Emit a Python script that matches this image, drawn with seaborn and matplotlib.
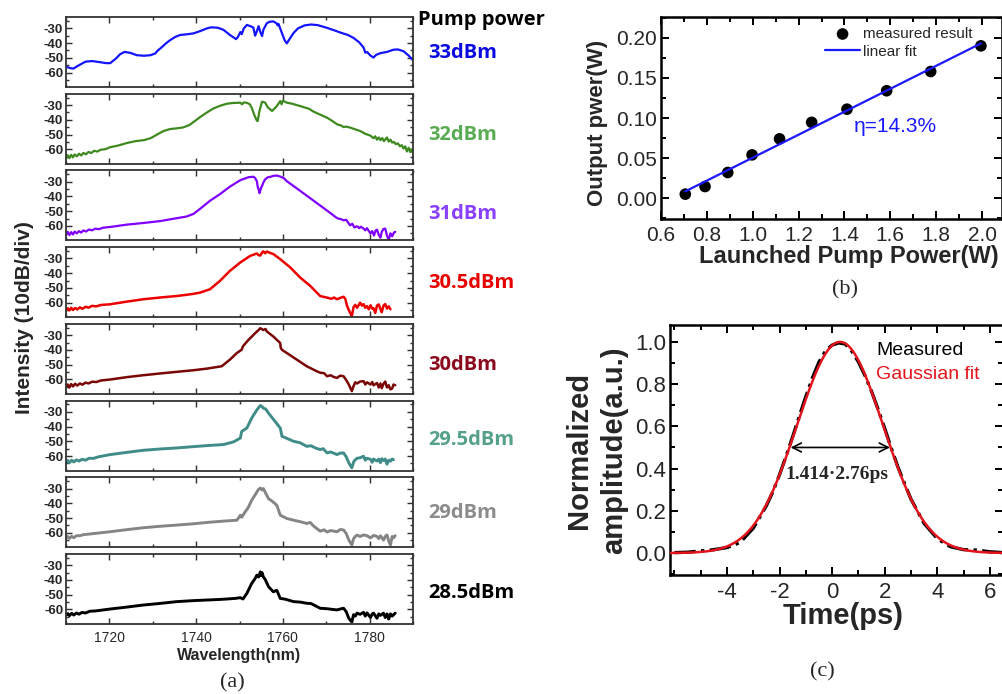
import numpy as np
import pandas as pd
import matplotlib
matplotlib.use("Agg")
import matplotlib.pyplot as plt
import seaborn as sns
from matplotlib.ticker import MultipleLocator

# ---------------- data: panel (a) spectra (wavelength nm, intensity dB) ----------------
spec_33 = [(1710.0, -56.1), (1711.0, -57.0), (1711.7, -57.3), (1713.0, -55.0), (1714.5, -52.6),
           (1716.0, -52.2), (1717.5, -52.8), (1719.2, -53.6), (1720.2, -53.6), (1721.5, -50.5),
           (1722.5, -47.5), (1723.5, -46.0), (1724.8, -46.6), (1726.3, -48.2), (1728.0, -48.6),
           (1729.5, -48.2), (1730.6, -47.0), (1731.0, -45.5), (1732.0, -43.0), (1733.0, -40.3),
           (1734.0, -38.0), (1735.2, -35.8), (1736.3, -34.5), (1738.0, -34.0), (1739.4, -33.4),
           (1741.0, -31.8), (1742.5, -30.0), (1743.5, -29.3), (1745.0, -29.6), (1746.3, -31.0),
           (1747.8, -34.5), (1749.2, -37.3), (1749.6, -36.0), (1750.2, -32.5), (1750.5, -34.0),
           (1751.0, -30.0), (1751.7, -27.7), (1752.5, -28.5), (1753.2, -29.5), (1753.6, -35.0),
           (1754.0, -32.0), (1754.4, -28.5), (1754.8, -32.5), (1755.2, -35.2), (1755.5, -31.0),
           (1756.3, -26.5), (1757.0, -25.5), (1757.8, -25.3), (1758.5, -26.5), (1758.8, -28.0),
           (1759.0, -27.0), (1759.8, -33.4), (1760.4, -38.0), (1760.9, -40.2), (1761.6, -37.0),
           (1762.5, -33.0), (1763.5, -30.0), (1765.0, -28.0), (1766.5, -27.4), (1768.0, -27.8),
           (1770.0, -29.5), (1772.0, -31.5), (1773.2, -32.8), (1775.0, -34.5), (1776.3, -36.5),
           (1777.6, -39.5), (1778.6, -43.0), (1779.0, -46.5), (1779.4, -46.0), (1780.2, -48.5),
           (1780.9, -49.8), (1781.5, -48.0), (1782.5, -46.8), (1784.0, -46.0), (1785.5, -44.5),
           (1786.5, -44.3), (1787.8, -45.5), (1789.0, -48.5), (1790.0, -51.6)]

spec_32 = [(1710.0, -66.5), (1710.4, -64.0), (1710.8, -66.0), (1711.2, -63.8), (1711.6, -65.5),
           (1712.0, -63.5), (1712.5, -64.8), (1713.0, -63.0), (1713.5, -64.2), (1714.0, -62.5),
           (1714.6, -63.4), (1715.2, -61.8), (1715.8, -62.6), (1716.5, -61.0), (1717.2, -61.6),
           (1718.0, -60.3), (1719.0, -60.0), (1720.2, -58.6), (1722.0, -57.5), (1724.0, -55.8),
           (1726.0, -54.5), (1728.0, -53.8), (1729.5, -52.5), (1731.0, -50.0), (1732.5, -47.6),
           (1734.0, -46.3), (1735.5, -45.8), (1737.0, -45.2), (1738.5, -43.5), (1739.4, -41.5),
           (1741.0, -38.0), (1742.5, -35.0), (1744.0, -32.3), (1745.5, -30.5), (1747.1, -29.1),
           (1748.5, -28.6), (1750.2, -28.4), (1750.6, -29.5), (1751.0, -28.2), (1751.7, -28.5),
           (1752.4, -29.5), (1752.8, -31.8), (1753.2, -35.0), (1753.6, -38.1), (1754.0, -40.5),
           (1754.2, -40.8), (1754.6, -34.0), (1755.2, -27.7), (1755.9, -28.3), (1756.5, -31.5),
           (1757.1, -33.0), (1757.5, -34.0), (1758.2, -32.0), (1758.6, -30.7), (1759.4, -27.3),
           (1759.7, -29.5), (1760.0, -27.0), (1760.5, -27.8), (1760.9, -28.4), (1762.0, -29.0),
           (1764.0, -30.7), (1766.0, -32.5), (1767.1, -34.5), (1768.6, -36.5), (1770.2, -38.6),
           (1771.5, -41.0), (1772.5, -43.1), (1773.5, -44.0), (1774.0, -45.0), (1774.5, -44.6),
           (1775.5, -45.3), (1776.5, -46.3), (1777.8, -47.6), (1779.0, -49.5), (1780.2, -50.8),
           (1780.9, -52.5), (1781.3, -51.2), (1781.7, -53.5), (1782.1, -52.0), (1782.5, -53.8),
           (1782.9, -52.4), (1783.3, -54.5), (1783.7, -53.0), (1784.0, -52.0), (1784.4, -54.8),
           (1784.8, -53.5), (1785.2, -55.5), (1785.6, -55.0), (1786.0, -56.5), (1786.5, -56.0),
           (1787.0, -58.0), (1787.4, -57.2), (1787.8, -59.5), (1788.2, -58.0), (1788.6, -61.5),
           (1789.0, -59.0), (1789.4, -62.0), (1789.7, -60.0), (1790.0, -62.5)]

spec_31 = [(1710.0, -66.5), (1710.4, -64.0), (1710.8, -66.2), (1711.2, -64.2), (1711.6, -65.8),
           (1712.0, -63.8), (1712.5, -65.0), (1713.0, -63.5), (1713.5, -64.5), (1714.0, -63.0),
           (1714.6, -63.8), (1715.3, -62.4), (1716.0, -63.0), (1716.8, -61.8), (1717.6, -62.2),
           (1718.5, -61.2), (1720.2, -60.7), (1724.0, -59.1), (1727.8, -58.0), (1731.7, -56.7),
           (1734.8, -55.1), (1737.8, -53.6), (1739.4, -51.8), (1740.9, -48.4), (1743.2, -42.9),
           (1745.5, -38.4), (1747.8, -33.3), (1750.2, -28.9), (1752.1, -26.9), (1753.2, -26.6),
           (1753.6, -27.5), (1754.0, -29.6), (1754.2, -33.5), (1754.4, -35.1), (1754.6, -37.8),
           (1754.8, -36.0), (1755.0, -34.0), (1755.2, -32.9), (1755.5, -30.5), (1755.9, -28.4),
           (1756.5, -27.0), (1757.1, -26.7), (1757.8, -26.0), (1758.6, -25.8), (1759.4, -26.5),
           (1760.2, -27.5), (1760.9, -29.6), (1764.0, -36.2), (1767.1, -42.9), (1770.2, -49.6),
           (1772.5, -54.7), (1773.5, -55.5), (1774.0, -56.2), (1774.6, -55.8), (1775.5, -59.6),
           (1776.0, -58.5), (1776.5, -61.0), (1777.1, -60.2), (1777.6, -61.5), (1778.0, -60.5),
           (1778.6, -61.8), (1779.0, -63.0), (1779.4, -61.5), (1779.9, -63.8), (1780.2, -65.1),
           (1780.6, -63.5), (1781.0, -66.5), (1781.4, -63.0), (1781.7, -62.5), (1782.1, -66.0),
           (1782.5, -68.0), (1782.8, -64.0), (1783.2, -62.0), (1783.6, -61.8), (1784.0, -66.5),
           (1784.4, -69.6), (1784.8, -65.0), (1785.2, -67.0), (1785.6, -64.5), (1785.9, -64.0)]

spec_305 = [(1710.0, -65.5), (1710.4, -63.8), (1710.8, -65.2), (1711.2, -63.5), (1711.6, -65.0),
            (1712.1, -63.6), (1712.6, -64.6), (1713.2, -63.2), (1713.8, -64.2), (1714.5, -62.8),
            (1715.2, -63.4), (1716.0, -62.2), (1717.0, -62.5), (1718.0, -61.6), (1720.2, -61.1),
            (1724.0, -59.3), (1727.8, -57.7), (1731.7, -56.5), (1735.5, -55.5), (1739.0, -54.2),
            (1740.9, -53.2), (1743.2, -50.9), (1745.5, -45.2), (1747.8, -38.4), (1750.2, -32.7),
            (1752.5, -28.2), (1753.2, -27.5), (1754.0, -26.6), (1754.4, -27.8), (1754.8, -28.0),
            (1755.2, -26.0), (1755.5, -25.2), (1755.9, -26.5), (1756.3, -25.3), (1756.7, -25.8),
            (1757.1, -26.3), (1757.8, -27.0), (1759.4, -30.5), (1761.7, -36.1), (1764.0, -43.0),
            (1766.3, -48.6), (1768.6, -55.5), (1770.2, -56.6), (1771.2, -57.4), (1771.8, -56.5),
            (1772.5, -57.7), (1773.2, -56.8), (1774.0, -56.0), (1774.4, -57.5), (1774.8, -62.3),
            (1775.2, -65.0), (1775.5, -66.8), (1775.9, -69.0), (1776.3, -63.0), (1776.7, -61.5),
            (1777.1, -63.5), (1777.8, -60.0), (1778.2, -62.0), (1778.6, -61.0), (1779.0, -63.5),
            (1779.4, -62.3), (1779.8, -64.5), (1780.2, -61.8), (1780.6, -64.0), (1780.9, -63.8),
            (1781.3, -67.0), (1781.7, -62.0), (1782.1, -61.2), (1782.5, -64.5), (1782.8, -66.5),
            (1783.2, -62.0), (1783.6, -61.0), (1784.0, -64.0), (1784.4, -62.5), (1784.8, -64.5)]

spec_30 = [(1710.0, -65.0), (1710.4, -63.5), (1710.8, -65.5), (1711.2, -63.2), (1711.6, -64.8),
           (1712.1, -63.0), (1712.6, -64.2), (1713.2, -62.8), (1713.8, -63.6), (1714.5, -62.2),
           (1715.2, -62.8), (1716.0, -61.6), (1717.0, -61.8), (1718.0, -60.8), (1720.2, -60.1),
           (1724.0, -58.5), (1727.8, -57.2), (1731.7, -56.0), (1735.5, -54.9), (1739.4, -53.8),
           (1742.5, -52.7), (1745.9, -51.1), (1747.8, -46.6), (1749.4, -42.1), (1750.5, -39.9),
           (1750.8, -37.5), (1752.1, -33.1), (1753.6, -28.7), (1754.4, -26.5), (1754.8, -25.3),
           (1755.2, -26.0), (1755.5, -26.5), (1756.0, -25.8), (1756.3, -27.5), (1757.8, -30.9),
           (1759.4, -35.4), (1759.5, -38.5), (1759.8, -40.0), (1760.9, -42.1), (1763.2, -46.6),
           (1765.5, -51.1), (1767.8, -54.5), (1768.6, -55.5), (1769.5, -55.8), (1770.2, -57.9),
           (1771.0, -57.2), (1771.8, -58.5), (1772.5, -59.0), (1773.2, -57.5), (1774.0, -57.9),
           (1774.6, -60.5), (1775.2, -63.5), (1775.9, -68.0), (1776.3, -64.5), (1776.7, -62.0),
           (1777.1, -62.8), (1777.8, -61.5), (1778.6, -61.2), (1779.0, -63.5), (1779.4, -62.0),
           (1780.2, -63.5), (1780.6, -61.8), (1780.9, -64.0), (1781.7, -62.5), (1782.1, -65.5),
           (1782.5, -62.8), (1782.8, -66.0), (1783.2, -63.0), (1783.6, -61.5), (1784.0, -65.5),
           (1784.4, -64.0), (1784.8, -66.8), (1785.2, -66.2), (1785.5, -63.5), (1785.9, -64.0)]

spec_295 = [(1710.0, -64.5), (1710.4, -63.0), (1710.8, -64.5), (1711.3, -62.8), (1711.8, -64.0),
            (1712.4, -62.6), (1713.0, -63.4), (1713.7, -62.2), (1714.5, -62.8), (1715.3, -61.5),
            (1716.3, -61.6), (1717.5, -60.5), (1720.2, -59.0), (1724.0, -57.5), (1727.8, -56.1),
            (1731.7, -55.2), (1735.5, -54.5), (1739.4, -53.6), (1742.5, -52.9), (1746.3, -52.2),
            (1748.6, -50.4), (1750.2, -47.8), (1750.5, -43.3), (1751.7, -41.0), (1752.8, -34.3),
            (1754.0, -28.7), (1754.8, -25.7), (1755.2, -26.5), (1755.5, -27.5), (1756.0, -28.0),
            (1756.7, -30.9), (1758.2, -36.5), (1759.4, -41.0), (1759.8, -46.6), (1762.5, -50.0),
            (1764.0, -51.0), (1765.5, -53.4), (1766.5, -53.0), (1767.5, -54.5), (1768.6, -55.6),
            (1769.3, -55.0), (1770.2, -57.9), (1771.0, -57.2), (1772.5, -59.0), (1773.2, -58.0),
            (1774.0, -57.9), (1774.6, -60.5), (1775.2, -64.6), (1775.9, -68.0), (1776.3, -64.0),
            (1776.7, -62.5), (1777.1, -61.5), (1777.8, -61.2), (1778.6, -60.1), (1779.0, -62.8),
            (1779.4, -61.5), (1780.2, -62.2), (1780.6, -64.2), (1780.9, -62.0), (1781.7, -63.4),
            (1782.1, -62.0), (1782.5, -64.5), (1782.8, -61.8), (1783.2, -63.0), (1783.6, -62.0),
            (1784.0, -65.5), (1784.4, -62.8), (1784.8, -63.5), (1785.2, -62.0), (1785.5, -62.5)]

spec_29 = [(1710.0, -63.8), (1710.4, -62.5), (1710.8, -63.8), (1711.3, -62.4), (1711.8, -63.4),
           (1712.4, -62.0), (1713.2, -62.0), (1714.0, -61.3), (1715.0, -61.0), (1716.5, -60.5),
           (1720.2, -59.3), (1724.0, -57.9), (1727.8, -56.6), (1731.7, -55.6), (1735.5, -54.8),
           (1739.4, -53.9), (1742.5, -53.0), (1746.3, -52.1), (1749.4, -51.5), (1750.2, -48.1),
           (1750.5, -49.5), (1751.3, -45.8), (1752.0, -43.0), (1752.8, -38.0), (1754.0, -32.4),
           (1754.4, -30.5), (1754.8, -29.7), (1755.2, -31.0), (1755.5, -30.0), (1756.0, -33.0),
           (1756.7, -36.9), (1757.5, -38.5), (1758.6, -41.3), (1759.4, -48.1), (1760.9, -50.3),
           (1762.5, -51.5), (1764.0, -52.5), (1765.5, -53.7), (1766.3, -53.0), (1767.1, -55.5),
           (1768.6, -58.9), (1769.5, -58.0), (1770.2, -59.5), (1771.0, -58.5), (1772.5, -59.3),
           (1773.2, -57.8), (1774.0, -58.1), (1774.6, -60.5), (1775.2, -64.9), (1775.9, -68.3),
           (1776.3, -64.0), (1776.7, -62.5), (1777.1, -61.6), (1777.8, -62.5), (1778.6, -61.5),
           (1779.4, -62.0), (1780.2, -63.5), (1780.9, -61.8), (1781.7, -62.5), (1782.1, -64.0),
           (1782.5, -62.0), (1783.2, -65.0), (1783.6, -62.5), (1784.0, -61.5), (1784.4, -65.5),
           (1784.8, -68.3), (1785.2, -62.5), (1785.5, -63.5), (1785.9, -62.0)]

spec_285 = [(1710.0, -64.0), (1710.4, -62.8), (1710.8, -64.2), (1711.3, -62.6), (1711.8, -63.8),
            (1712.4, -62.4), (1713.0, -63.2), (1713.7, -62.0), (1714.5, -62.4), (1715.5, -61.2),
            (1716.8, -61.0), (1720.2, -59.7), (1724.0, -58.4), (1727.8, -57.0), (1731.7, -55.9),
            (1735.5, -54.7), (1739.4, -54.0), (1742.5, -53.6), (1745.5, -53.2), (1747.1, -52.9),
            (1749.0, -52.5), (1750.2, -52.0), (1750.8, -52.9), (1751.7, -49.1), (1752.8, -42.4),
            (1753.6, -39.0), (1754.0, -36.7), (1754.4, -38.0), (1754.8, -34.5), (1755.0, -37.0),
            (1755.2, -35.0), (1755.5, -37.9), (1755.9, -39.5), (1756.7, -44.6), (1757.8, -48.0),
            (1758.6, -47.0), (1759.4, -52.5), (1760.5, -53.0), (1762.5, -54.7), (1764.0, -55.0),
            (1765.5, -55.8), (1766.5, -56.0), (1767.5, -57.5), (1768.6, -59.2), (1770.2, -59.5),
            (1771.5, -60.0), (1772.5, -60.3), (1773.5, -59.5), (1774.0, -59.2), (1774.6, -61.5),
            (1775.2, -66.0), (1775.9, -68.5), (1776.3, -63.5), (1776.7, -64.5), (1777.1, -62.5),
            (1777.8, -63.3), (1778.6, -62.0), (1779.0, -64.5), (1779.4, -62.3), (1780.2, -65.5),
            (1780.6, -63.0), (1780.9, -62.5), (1781.7, -66.0), (1782.1, -63.0), (1782.5, -64.0),
            (1783.2, -62.5), (1783.6, -65.5), (1784.0, -63.0), (1784.4, -66.5), (1784.8, -63.0),
            (1785.2, -64.5), (1785.9, -62.5)]

pump_labels = ["33dBm", "32dBm", "31dBm", "30.5dBm", "30dBm", "29.5dBm", "29dBm", "28.5dBm"]
spectra = [spec_33, spec_32, spec_31, spec_305, spec_30, spec_295, spec_29, spec_285]
line_colors = ["#1414ff", "#3f8a1f", "#8000ff", "#ec0000", "#7a0606", "#3f8c88", "#858585", "#000000"]
label_colors = ["#0a0ae0", "#5aac52", "#8a40ff", "#e80000", "#8c0a1e", "#55a08a", "#8c8c8c", "#000000"]
y_ticks_a = [-60, -50, -40, -30]
y_ticklabels_a = ["-60", "-50", "-40", "-30"]
x_ticks_a = [1720, 1740, 1760, 1780]

# ---------------- data: panel (b) ----------------
pump_w = [0.706, 0.792, 0.891, 0.997, 1.117, 1.257, 1.411, 1.584, 1.776, 1.995]
out_w = [0.005, 0.0145, 0.032, 0.054, 0.074, 0.0946, 0.111, 0.134, 0.158, 0.190]

# ---------------- data: panel (c) ----------------
meas_t = [-6.0, -5.5, -5.0, -4.5, -4.0, -3.5, -3.0, -2.5, -2.25, -2.0, -1.75, -1.5, -1.25, -1.0,
          -0.75, -0.5, -0.25, 0.0, 0.25, 0.5, 0.75, 1.0, 1.25, 1.5, 1.75, 2.0, 2.25, 2.5, 2.75,
          3.0, 3.5, 4.0, 4.5, 5.0, 5.5, 6.0, 6.5]
meas_a = [0.002, 0.004, 0.010, 0.016, 0.026, 0.050, 0.118, 0.225, 0.292, 0.372, 0.460, 0.552,
          0.648, 0.742, 0.830, 0.905, 0.958, 0.985, 0.995, 0.990, 0.955, 0.905, 0.840, 0.765,
          0.680, 0.590, 0.497, 0.408, 0.330, 0.255, 0.140, 0.068, 0.030, 0.016, 0.014, 0.006, 0.002]
fit_center = 0.3
fit_fwhm = 3.85
fwhm_arrow = (-1.58, 2.2)

# ---------------- figure ----------------
W, H = 1003, 694
sns.set_style("ticks")
plt.rcParams["font.family"] = ["Liberation Sans", "DejaVu Sans"]
plt.rcParams["axes.unicode_minus"] = False

fig = plt.figure(figsize=(W / 100, H / 100), dpi=100)


def fx(px):
    return px / W


def fy(py):
    return 1 - py / H


def style_box(ax, lw, major, minor, color="black"):
    for s in ax.spines.values():
        s.set_linewidth(lw)
        s.set_color(color)
    ax.tick_params(which="both", direction="in", top=True, right=True, width=lw * 0.8, color=color)
    ax.tick_params(which="major", length=major)
    ax.tick_params(which="minor", length=minor)


# panel (a)
for i, (spec, col, lab, lcol) in enumerate(zip(spectra, line_colors, pump_labels, label_colors)):
    top = 17 + i * 76.7
    ax = fig.add_axes([fx(66), fy(top + 70), 347 / W, 70 / H])
    df = pd.DataFrame(spec, columns=["wl", "db"])
    lw = 1.6 if i < 3 else (1.8 if i < 5 else 2.1)
    sns.lineplot(data=df, x="wl", y="db", ax=ax, color=col, lw=lw, sort=False,
                 estimator=None, legend=False)
    ax.set_xlim(1710, 1790)
    ax.set_ylim(-69.8, -22.3)
    ax.set_yticks(y_ticks_a, labels=y_ticklabels_a, fontsize=9.5, fontweight="bold")
    ax.yaxis.set_minor_locator(MultipleLocator(5))
    ax.set_xticks(x_ticks_a)
    ax.xaxis.set_minor_locator(MultipleLocator(10))
    style_box(ax, 1.3, 4.5, 2.5, color="#333333")
    ax.tick_params(axis="y", pad=2)
    ax.set_ylabel("")
    ax.set_xlabel("")
    if i < 7:
        ax.tick_params(axis="x", labelbottom=False)
    else:
        ax.tick_params(axis="x", labelsize=10, pad=5)
        ax.set_xlabel("Wavelength(nm)", fontsize=11.5, fontweight="bold", labelpad=2)
    label_y = [53, 135, 214, 283, 365, 440, 513, 593][i]
    fig.text(fx(428), fy(label_y), lab, color=lcol, fontsize=14.5, fontweight="bold",
             family=["Open Sans", "DejaVu Sans"], ha="left", va="center")

fig.text(fx(418), fy(20), "Pump power", color="black", fontsize=14.5, fontweight="bold",
         family=["Open Sans", "DejaVu Sans"], ha="left", va="center")
fig.text(fx(25), fy(318), "Intensity (10dB/div)", rotation=90, fontsize=15, fontweight="bold",
         ha="center", va="center")
fig.text(fx(232), fy(683), "(a)", fontsize=16, family=["Liberation Serif", "DejaVu Serif"],
         ha="center", va="center")

# panel (b)
axb = fig.add_axes([fx(661), fy(219), 341 / W, 202 / H])
dfb = pd.DataFrame({"pump": pump_w, "out": out_w})
sns.scatterplot(data=dfb, x="pump", y="out", ax=axb, color="black", s=70, edgecolor="none",
                label="measured result", zorder=3)
slope, icpt = np.polyfit(pump_w, out_w, 1)
fit_x = np.array([pump_w[0], pump_w[-1]])
dff = pd.DataFrame({"pump": fit_x, "out": slope * fit_x + icpt})
sns.lineplot(data=dff, x="pump", y="out", ax=axb, color="#1a1aff", lw=1.6, label="linear fit",
             zorder=4)
axb.set_xlim(0.6, 2.087)
axb.set_ylim(-0.026, 0.226)
axb.set_xticks(np.round(np.arange(0.6, 2.01, 0.2), 1))
axb.xaxis.set_minor_locator(MultipleLocator(0.1))
axb.set_yticks([0.0, 0.05, 0.10, 0.15, 0.20])
axb.set_yticklabels(["0.00", "0.05", "0.10", "0.15", "0.20"])
axb.yaxis.set_minor_locator(MultipleLocator(0.025))
style_box(axb, 1.8, 6, 3.5)
axb.tick_params(labelsize=15)
axb.tick_params(axis="x", pad=5)
axb.tick_params(axis="y", pad=3)
axb.set_xlabel("Launched Pump Power(W)", fontsize=17, fontweight="bold", labelpad=0)
axb.xaxis.set_label_coords(0.55, -0.13)
axb.set_ylabel("Output pwer(W)", fontsize=16, fontweight="bold")
axb.yaxis.set_label_coords(-0.155, 0.475)
axb.text(1.443, 0.090, "η=14.3%", color="#1a1aff", fontsize=15, ha="left", va="center")
leg = axb.legend(loc="upper left", bbox_to_anchor=(fx(825), fy(27)), bbox_transform=fig.transFigure,
                 frameon=False, fontsize=11, handlelength=2.3, handletextpad=0.2,
                 labelspacing=0.25, borderpad=0, borderaxespad=0, markerscale=1.0)
fig.text(fx(845), fy(290), "(b)", fontsize=16, family=["Liberation Serif", "DejaVu Serif"],
         ha="center", va="center")

# panel (c)
axc = fig.add_axes([fx(670), fy(575), 333 / W, 250 / H])
t_fit = np.linspace(-6.2, 6.5, 400)
sig = fit_fwhm / (2 * np.sqrt(2 * np.log(2)))
dfit = pd.DataFrame({"t": t_fit, "a": np.exp(-(t_fit - fit_center) ** 2 / (2 * sig ** 2))})
dmeas = pd.DataFrame({"t": meas_t, "a": meas_a})
sns.lineplot(data=dmeas, x="t", y="a", ax=axc, color="black", lw=2.4, linestyle="-.",
             label="Measured", sort=False, estimator=None, zorder=3)
sns.lineplot(data=dfit, x="t", y="a", ax=axc, color="#e3141c", lw=1.8, label="Gaussian fit",
             sort=False, estimator=None, zorder=4)
axc.set_xlim(-6.17, 6.5)
axc.set_ylim(-0.104, 1.08)
axc.set_xticks([-4, -2, 0, 2, 4, 6])
axc.xaxis.set_minor_locator(MultipleLocator(1))
axc.set_yticks([0.0, 0.2, 0.4, 0.6, 0.8, 1.0])
axc.yaxis.set_minor_locator(MultipleLocator(0.1))
style_box(axc, 1.8, 6, 3.5)
axc.tick_params(labelsize=16)
axc.tick_params(axis="x", pad=5)
axc.tick_params(axis="y", pad=3)
axc.set_xlabel("Time(ps)", fontsize=21, fontweight="bold", labelpad=0)
axc.xaxis.set_label_coords(0.52, -0.11)
axc.set_ylabel("Normalized\namplitude(a.u.)", fontsize=21, fontweight="bold", linespacing=1.35)
axc.yaxis.set_label_coords(-0.125, 0.5)
axc.annotate("", xy=(fwhm_arrow[0], 0.5), xytext=(fwhm_arrow[1], 0.5),
             arrowprops=dict(arrowstyle="<->", lw=1.2, color="black", mutation_scale=16,
                             shrinkA=0, shrinkB=0))
axc.text(0.2, 0.37, "1.414·2.76ps", fontsize=14, fontweight="bold",
         family=["Liberation Serif", "DejaVu Serif"], ha="center", va="center")
legc = axc.legend(loc="upper left", bbox_to_anchor=(fx(876), fy(341)), bbox_transform=fig.transFigure,
                  frameon=False, fontsize=14, handlelength=0, handletextpad=0,
                  labelspacing=0.35, borderpad=0, borderaxespad=0, labelcolor="linecolor")
for h in legc.legend_handles:
    h.set_visible(False)
fig.text(fx(822), fy(672), "(c)", fontsize=16, family=["Liberation Serif", "DejaVu Serif"],
         ha="center", va="center")

fig.savefig("out.png", dpi=100)
